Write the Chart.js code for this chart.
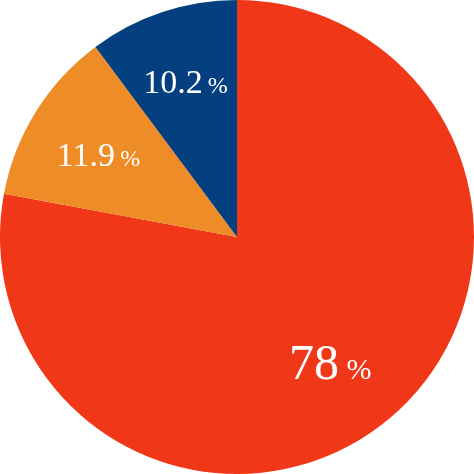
<!DOCTYPE html>
<html>
<head>
<meta charset="utf-8">
<script src="https://cdn.jsdelivr.net/npm/chart.js@4"></script>
<style>
  html, body { margin: 0; padding: 0; background: #fff; }
  #wrap { width: 474px; height: 474px; }
</style>
</head>
<body>
<div id="wrap"><canvas id="pie"></canvas></div>
<script>
// valores (sentido horário a partir do topo)
const labels = ['A', 'B', 'C'];
const values = [78, 11.9, 10.2];
const valueTexts = ['78', '11.9', '10.2'];
const colors = ['#F03818', '#EE8C27', '#043F7F'];

// estilo dos rótulos: tamanho do número / do "%", raio relativo, ajuste de ângulo
const numSizes = [50, 34, 34];
const pctSizes = [30, 24, 24];
const labelRadius = [0.66, 0.68, 0.69];
const labelTurn = [0.055, -0.02, 0];

const FONT = "'Liberation Serif', 'Times New Roman', Times, serif";

/* Rótulos dentro das fatias: número grande + "%" menor, na mesma linha de base. */
const sliceLabels = {
  id: 'sliceLabels',
  afterDatasetsDraw(chart) {
    const { ctx } = chart;
    const meta = chart.getDatasetMeta(0);
    ctx.save();
    ctx.fillStyle = '#fff';
    ctx.textBaseline = 'alphabetic';
    ctx.textAlign = 'left';
    meta.data.forEach((arc, i) => {
      const p = arc.getProps(['x', 'y', 'startAngle', 'endAngle', 'outerRadius'], true);
      const mid = (p.startAngle + p.endAngle) / 2 + labelTurn[i];
      const r = p.outerRadius * labelRadius[i];
      const cx = p.x + Math.cos(mid) * r;
      const cy = p.y + Math.sin(mid) * r;

      const num = valueTexts[i];
      ctx.font = numSizes[i] + 'px ' + FONT;
      const wNum = ctx.measureText(num).width;
      ctx.font = pctSizes[i] + 'px ' + FONT;
      const wPct = ctx.measureText('%').width;
      const gap = numSizes[i] * 0.15;
      const x0 = cx - (wNum + gap + wPct) / 2;
      const base = cy + numSizes[i] * 0.33;

      ctx.font = numSizes[i] + 'px ' + FONT;
      ctx.fillText(num, x0, base);
      ctx.font = pctSizes[i] + 'px ' + FONT;
      ctx.fillText('%', x0 + wNum + gap, base);
    });
    ctx.restore();
  },
};

new Chart(document.getElementById('pie'), {
  type: 'pie',
  plugins: [sliceLabels],
  data: {
    labels,
    datasets: [{
      data: values,
      backgroundColor: colors,
      borderWidth: 0,
    }],
  },
  options: {
    responsive: true,
    maintainAspectRatio: false,
    animation: false,
    layout: { padding: 0 },
    plugins: {
      legend: { display: false },
      tooltip: { enabled: false },
    },
  },
});
</script>
</body>
</html>
